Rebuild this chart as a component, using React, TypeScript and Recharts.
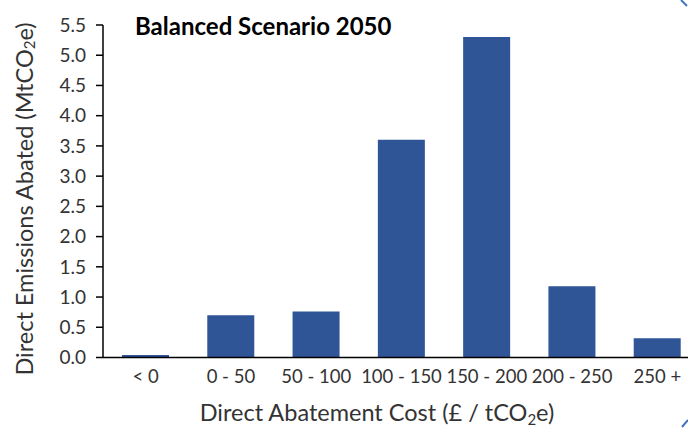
import { Bar, BarChart, XAxis, YAxis } from 'recharts';

const costBands = ['< 0', '0 - 50', '50 - 100', '100 - 150', '150 - 200', '200 - 250', '250 +'];
const abated = [0.04, 0.7, 0.76, 3.6, 5.3, 1.18, 0.32];
const yTicks = [0, 0.5, 1, 1.5, 2, 2.5, 3, 3.5, 4, 4.5, 5, 5.5];

const chartData = costBands.map((band, i) => ({ band, abated: abated[i] }));

const FONT = 'Lato, "Open Sans", sans-serif';
const BAR_COLOR = '#2F5597';
const TEXT = '#333';

const YLabel = () => (
    <text
        x={24}
        y={199}
        transform="rotate(-90 24 199)"
        textAnchor="middle"
        dominantBaseline="central"
        fontFamily={FONT}
        fontSize={23.5}
        fill={TEXT}
    >
        Direct Emissions Abated (MtCO
        <tspan fontSize={15} dy={5}>2</tspan>
        <tspan dy={-5}>e)</tspan>
    </text>
);

const XLabel = () => (
    <text x={377} y={421} textAnchor="middle" fontFamily={FONT} fontSize={23.5} fill={TEXT}>
        Direct Abatement Cost (£ / tCO
        <tspan fontSize={15} dy={4}>2</tspan>
        <tspan dy={-4}>e)</tspan>
    </text>
);

const App = () => {
    return (
        <div style={{ position: 'absolute', left: 0, top: 0, width: 688, height: 430, overflow: 'hidden', background: '#fff' }}>
            <BarChart
                width={720}
                height={430}
                data={chartData}
                margin={{ top: 25, right: 20, bottom: 0, left: 0 }}
            >
                <XAxis
                    dataKey="band"
                    height={72.5}
                    tickLine={false}
                    tickSize={0}
                    tickMargin={12}
                    stroke="#000"
                    strokeWidth={1.5}
                    tick={{ fill: TEXT, fontSize: 18.5, fontFamily: FONT }}
                    interval={0}
                    label={{ content: () => <XLabel /> }}
                />
                <YAxis
                    width={103}
                    domain={[0, 5.5]}
                    ticks={yTicks}
                    tickFormatter={(v: number) => v.toFixed(1)}
                    tickSize={7}
                    tickMargin={10}
                    stroke="#000"
                    strokeWidth={1.5}
                    tick={{ fill: TEXT, fontSize: 19, fontFamily: FONT }}
                    label={{ content: () => <YLabel /> }}
                />
                <Bar dataKey="abated" fill={BAR_COLOR} barSize={47} isAnimationActive={false} />
                <text x={135} y={35} fontFamily={FONT} fontSize={24} fontWeight={700} fill="#000">
                    Balanced Scenario 2050
                </text>
                <path d="M681 0 L687 6" stroke="#4472C4" strokeWidth={2} />
                <path d="M682 427 L688 420" stroke="#4472C4" strokeWidth={2} />
            </BarChart>
        </div>
    );
};

export default App;
